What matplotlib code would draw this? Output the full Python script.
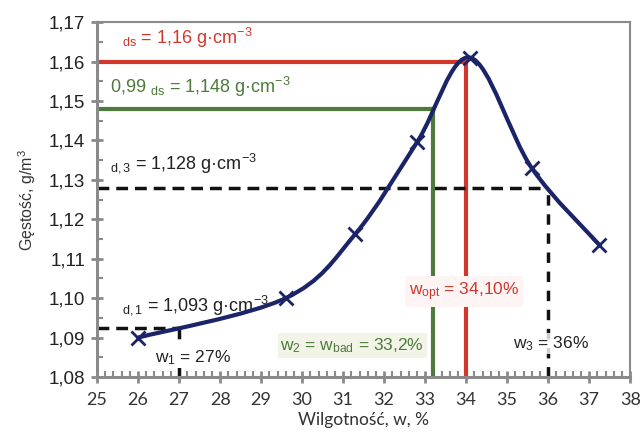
import matplotlib
matplotlib.use("Agg")
import matplotlib.pyplot as plt
import numpy as np
from matplotlib.path import Path
from matplotlib.patches import PathPatch
from matplotlib.ticker import MultipleLocator, FuncFormatter

# Dane pomiarowe
w = [26.0, 29.6, 31.3, 32.8, 34.1, 35.6, 37.25]
rho = [1.090, 1.100, 1.1163, 1.1395, 1.161, 1.133, 1.1135]

# Linie pomocnicze
rho_ds, w_opt = 1.16, 34.0
rho_099, w_2 = 1.148, 33.2
rho_3, w_3 = 1.128, 36.0
rho_1, w_1 = 1.0925, 27.0

plt.rcParams['font.family'] = ['Liberation Sans', 'DejaVu Sans']
plt.rcParams['mathtext.fontset'] = 'custom'
plt.rcParams['mathtext.rm'] = 'Liberation Sans'
plt.rcParams['mathtext.it'] = 'Liberation Sans:italic'
plt.rcParams['mathtext.bf'] = 'Liberation Sans:bold'

RED = '#d2372c'
GREEN = '#4e7a3c'
NAVY = '#1b2468'
GRAY = '#8a8a8a'


def smooth_path(xs, ys):
    # wygładzona linia (jak w Excelu) - krzywe Beziera przez punkty
    p = np.column_stack([xs, ys])
    ext = np.vstack([p[0], p, p[-1]])
    verts = [p[0]]
    codes = [Path.MOVETO]
    for i in range(1, len(ext) - 2):
        p0, p1, p2, p3 = ext[i - 1], ext[i], ext[i + 1], ext[i + 2]
        verts += [p1 + (p2 - p0) / 6, p2 - (p3 - p1) / 6, p2]
        codes += [Path.CURVE4] * 3
    return Path(verts, codes)


fig = plt.figure(figsize=(6.43, 4.43), dpi=100)
ax = fig.add_axes([0.151, 0.149, 0.829, 0.801])
ax.set_xlim(25, 38)
ax.set_ylim(1.08, 1.17)

# linie pomocnicze
dash = (0, (3.4, 2))
ax.plot([25, w_opt], [rho_ds, rho_ds], color=RED, lw=3, zorder=2)
ax.plot([w_opt, w_opt], [1.08, rho_ds], color=RED, lw=3, zorder=2)
ax.plot([25, w_2], [rho_099, rho_099], color=GREEN, lw=3, zorder=2)
ax.plot([w_2, w_2], [1.08, rho_099], color=GREEN, lw=3, zorder=2)
ax.plot([25, w_3], [rho_3, rho_3], color='#111111', lw=2.5, ls=dash, zorder=2)
ax.plot([w_3, w_3], [1.08, rho_3], color='#111111', lw=2.5, ls=(0, (3, 2.5)), zorder=2)
ax.plot([25, w_1], [rho_1, rho_1], color='#111111', lw=2.5, ls=dash, zorder=2)
ax.plot([w_1, w_1], [1.08, rho_1], color='#111111', lw=2.5, ls=(0, (3, 2.5)), zorder=2)

# krzywa zagęszczalności
ax.add_patch(PathPatch(smooth_path(w, rho), fill=False, edgecolor=NAVY, lw=3, zorder=4))
ax.plot(w, rho, ls='none', marker='x', ms=10, mew=2, color=NAVY, zorder=5)

# opisy
fs = 13
ax.text(25.6, 1.166, r"$_{\mathrm{ds}}$ = 1,16 g·cm$^{-3}$", color=RED, fontsize=fs,
        va='center', ha='left', zorder=6)
ax.text(25.32, 1.1535, r"0,99 $_{\mathrm{ds}}$ = 1,148 g·cm$^{-3}$", color=GREEN, fontsize=fs,
        va='center', ha='left', zorder=6)
ax.text(25.32, 1.1342, r"$_{\mathrm{d,3}}$ = 1,128 g·cm$^{-3}$", color='#222222', fontsize=fs,
        va='center', ha='left', zorder=6)
ax.text(25.6, 1.0982, r"$_{\mathrm{d,1}}$ = 1,093 g·cm$^{-3}$", color='#222222', fontsize=fs,
        va='center', ha='left', zorder=3)
ax.text(27.34, 1.085, r"w$_{1}$ = 27%", color='#222222', fontsize=12.5, va='center', ha='center',
        zorder=6, bbox=dict(facecolor='white', edgecolor='none', pad=1))
ax.text(31.22, 1.088, r"w$_{2}$ = w$_{\mathrm{bad}}$ = 33,2%", color=GREEN, fontsize=12.5,
        va='center', ha='center', zorder=6,
        bbox=dict(facecolor='#f2f4e8', edgecolor='none', pad=2))
ax.text(33.95, 1.1017, r"w$_{\mathrm{opt}}$ = 34,10%", color=RED, fontsize=12.5,
        va='center', ha='center', zorder=6,
        bbox=dict(facecolor='#fdf4f3', edgecolor='none', pad=3))
ax.text(36.07, 1.0885, r"w$_{3}$ = 36%", color='#222222', fontsize=12.5, va='center', ha='center',
        zorder=6, bbox=dict(facecolor='white', edgecolor='none', pad=1, alpha=0.8))

# osie
ax.xaxis.set_major_locator(MultipleLocator(1))
ax.xaxis.set_minor_locator(MultipleLocator(0.2))
ax.yaxis.set_major_locator(MultipleLocator(0.01))
ax.yaxis.set_minor_locator(MultipleLocator(0.005))
ax.yaxis.set_major_formatter(FuncFormatter(lambda v, _: f"{v:.2f}".replace('.', ',')))

ax.tick_params(axis='both', which='major', direction='inout', length=9, width=2, color=GRAY)
ax.tick_params(axis='both', which='minor', direction='in', length=4, width=1.5, color=GRAY)
ax.tick_params(axis='y', labelsize=13.5, labelcolor='#222222', pad=4)
ax.tick_params(axis='x', labelsize=13, labelcolor='#333333', pad=6)
for lab in ax.get_xticklabels():
    lab.set_fontfamily('Lato')

for side in ['left', 'bottom']:
    ax.spines[side].set_color(GRAY)
    ax.spines[side].set_linewidth(2.2)
for side in ['top', 'right']:
    ax.spines[side].set_color(GRAY)
    ax.spines[side].set_linewidth(1.5)

ax.set_xlabel("Wilgotność, w, %", fontsize=12.5, family='Lato', color='#333333', labelpad=3)
ax.set_ylabel("Gęstość, g/m$^{3}$", fontsize=11.5, color='#333333', labelpad=8)

fig.savefig('out.png', dpi=100)
